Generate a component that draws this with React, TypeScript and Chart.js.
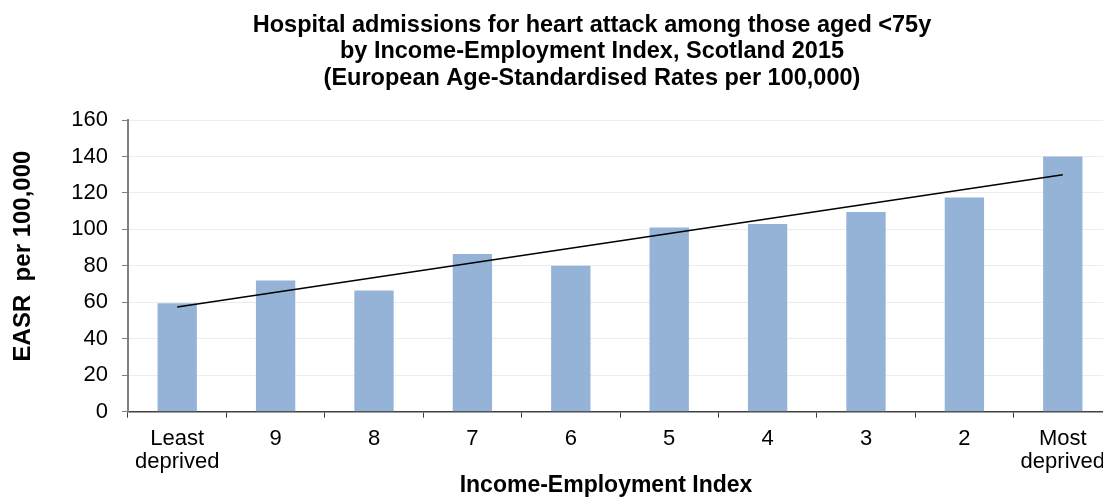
import React, { useEffect, useRef } from "react";
import { Chart, registerables } from "chart.js";

Chart.register(...registerables);

// ---- Data ----
const categories: (string | string[])[] = [
  ["Least", "deprived"],
  "9",
  "8",
  "7",
  "6",
  "5",
  "4",
  "3",
  "2",
  ["Most", "deprived"],
];
const easrValues: number[] = [59.5, 72, 66.5, 86.5, 80, 101, 103, 109.5, 117.5, 140];
// Linear trend line: only the two end points are drawn
const trendValues: (number | null)[] = [57.4, null, null, null, null, null, null, null, null, 130];
const yMin = 0;
const yMax = 160;
const yStep = 20;
const titleLines: string[] = [
  "Hospital admissions for heart attack among those aged <75y",
  "by Income-Employment Index, Scotland 2015",
  "(European Age-Standardised Rates per 100,000)",
];
const xAxisTitle = "Income-Employment Index";
const yAxisTitle = "EASR  per 100,000";

const FONT = "'Liberation Sans', Arial, Helvetica, sans-serif";
const CANVAS_W = 1120;
const CANVAS_H = 515;

const textPlugin = {
  id: "chartTexts",
  afterDraw(chart: any) {
    const ctx = chart.ctx;
    ctx.save();
    ctx.fillStyle = "#000000";
    ctx.textAlign = "center";

    // main title
    ctx.font = `bold 23.5px ${FONT}`;
    ctx.textBaseline = "alphabetic";
    titleLines.forEach((line, i) => {
      ctx.fillText(line, 592, 31.5 + i * 26.5);
    });

    // x axis title
    ctx.font = `bold 23px ${FONT}`;
    ctx.textBaseline = "middle";
    ctx.fillText(xAxisTitle, 606, 486);

    // y axis title
    ctx.font = `bold 24px ${FONT}`;
    ctx.translate(23, 256);
    ctx.rotate(-Math.PI / 2);
    ctx.textBaseline = "middle";
    ctx.fillText(yAxisTitle, 0, 0);

    ctx.restore();
  },
};

export default function App() {
  const canvasRef = useRef<HTMLCanvasElement | null>(null);

  useEffect(() => {
    if (!canvasRef.current) return;
    const chart = new Chart(canvasRef.current, {
      type: "bar",
      data: {
        labels: categories,
        datasets: [
          {
            type: "line",
            label: "Trend",
            data: trendValues,
            borderColor: "#000000",
            borderWidth: 1.5,
            pointRadius: 0,
            spanGaps: true,
            fill: false,
            order: 0,
          } as any,
          {
            type: "bar",
            label: "EASR",
            data: easrValues,
            backgroundColor: "#95B3D7",
            borderWidth: 0,
            barPercentage: 0.4,
            categoryPercentage: 1.0,
            order: 1,
          },
        ],
      },
      options: {
        animation: false,
        responsive: true,
        maintainAspectRatio: false,
        layout: { padding: { top: 120, right: 8, left: 0, bottom: 0 } },
        plugins: {
          legend: { display: false },
          title: { display: false },
          tooltip: { enabled: false },
        },
        scales: {
          x: {
            grid: {
              offset: true,
              drawOnChartArea: false,
              drawTicks: true,
              tickLength: 6,
              tickColor: "#404040",
              lineWidth: 1,
            },
            border: { display: true, color: "#404040", width: 1.5 },
            ticks: {
              color: "#000000",
              font: { family: FONT, size: 22, lineHeight: 1.05 },
              padding: 10,
              maxRotation: 0,
              autoSkip: false,
            },
            title: { display: false, text: xAxisTitle },
            afterFit: (scale: any) => {
              scale.height = CANVAS_H - 411.7;
            },
          },
          y: {
            min: yMin,
            max: yMax,
            ticks: {
              stepSize: yStep,
              color: "#000000",
              font: { family: FONT, size: 22 },
              padding: 14,
            },
            grid: {
              color: "#ececec",
              lineWidth: 1,
              drawTicks: true,
              tickLength: 6,
              tickColor: "#808080",
            },
            border: { display: true, color: "#808080", width: 2 },
            title: { display: false, text: yAxisTitle },
            afterFit: (scale: any) => {
              scale.width = 128;
            },
          },
        },
      },
      plugins: [textPlugin],
    });
    return () => chart.destroy();
  }, []);

  return (
    <div
      style={{
        position: "fixed",
        left: 0,
        top: 0,
        width: 1103,
        height: 497,
        overflow: "hidden",
        background: "#ffffff",
      }}
    >
      <div style={{ position: "relative", width: CANVAS_W, height: CANVAS_H }}>
        <canvas ref={canvasRef} />
      </div>
    </div>
  );
}
